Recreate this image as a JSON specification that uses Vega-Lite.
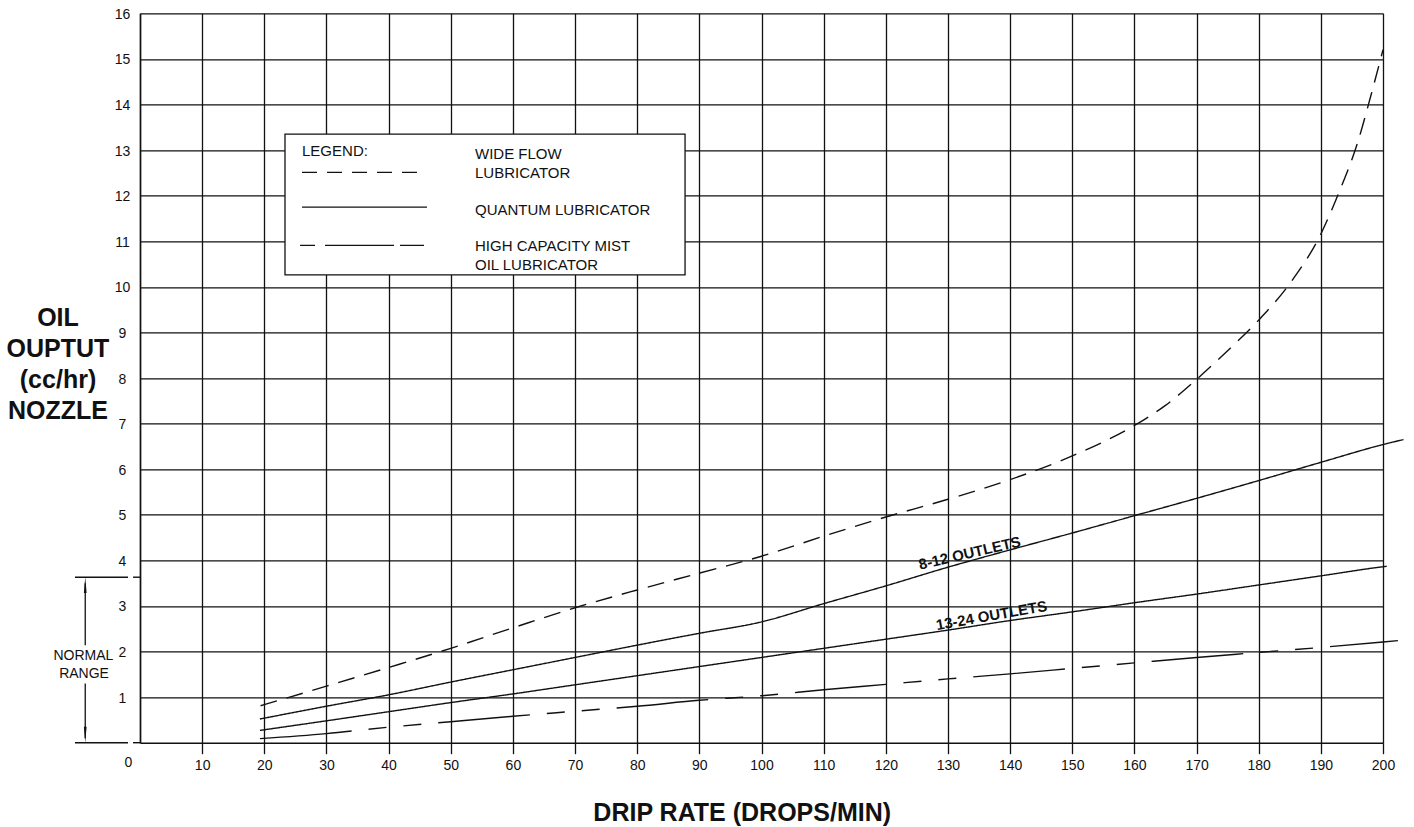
{
  "$schema": "https://vega.github.io/schema/vega-lite/v6.json",
  "width": 1243,
  "height": 729.4,
  "autosize": {"type": "none"},
  "padding": {"left": 140, "top": 13.3, "right": 31, "bottom": 84.3},
  "config": {"view": {"stroke": null}, "font": "Liberation Sans"},
  "datasets": {
    "curves": [
      {"kind": "wide", "curve": "wide", "x": 19.4, "y": 0.81},
      {"kind": "wide", "curve": "wide", "x": 30, "y": 1.24},
      {"kind": "wide", "curve": "wide", "x": 40, "y": 1.65},
      {"kind": "wide", "curve": "wide", "x": 50, "y": 2.07},
      {"kind": "wide", "curve": "wide", "x": 60, "y": 2.52},
      {"kind": "wide", "curve": "wide", "x": 70, "y": 2.96},
      {"kind": "wide", "curve": "wide", "x": 80, "y": 3.35},
      {"kind": "wide", "curve": "wide", "x": 90, "y": 3.72},
      {"kind": "wide", "curve": "wide", "x": 100, "y": 4.09},
      {"kind": "wide", "curve": "wide", "x": 110, "y": 4.53},
      {"kind": "wide", "curve": "wide", "x": 120, "y": 4.95},
      {"kind": "wide", "curve": "wide", "x": 130, "y": 5.34},
      {"kind": "wide", "curve": "wide", "x": 140, "y": 5.77},
      {"kind": "wide", "curve": "wide", "x": 150, "y": 6.29},
      {"kind": "wide", "curve": "wide", "x": 160, "y": 6.96},
      {"kind": "wide", "curve": "wide", "x": 165, "y": 7.4},
      {"kind": "wide", "curve": "wide", "x": 170, "y": 7.97},
      {"kind": "wide", "curve": "wide", "x": 175, "y": 8.6},
      {"kind": "wide", "curve": "wide", "x": 180, "y": 9.27},
      {"kind": "wide", "curve": "wide", "x": 185, "y": 10.07},
      {"kind": "wide", "curve": "wide", "x": 190, "y": 11.16},
      {"kind": "wide", "curve": "wide", "x": 193, "y": 12.1},
      {"kind": "wide", "curve": "wide", "x": 196, "y": 13.2},
      {"kind": "wide", "curve": "wide", "x": 198, "y": 14.17},
      {"kind": "wide", "curve": "wide", "x": 200, "y": 15.2},
      {"kind": "quantum", "curve": "q812", "x": 19.3, "y": 0.52},
      {"kind": "quantum", "curve": "q812", "x": 30, "y": 0.8},
      {"kind": "quantum", "curve": "q812", "x": 40, "y": 1.05},
      {"kind": "quantum", "curve": "q812", "x": 50, "y": 1.33},
      {"kind": "quantum", "curve": "q812", "x": 60, "y": 1.6},
      {"kind": "quantum", "curve": "q812", "x": 70, "y": 1.87},
      {"kind": "quantum", "curve": "q812", "x": 80, "y": 2.14},
      {"kind": "quantum", "curve": "q812", "x": 90, "y": 2.4},
      {"kind": "quantum", "curve": "q812", "x": 100, "y": 2.65},
      {"kind": "quantum", "curve": "q812", "x": 110, "y": 3.05},
      {"kind": "quantum", "curve": "q812", "x": 120, "y": 3.44},
      {"kind": "quantum", "curve": "q812", "x": 130, "y": 3.85},
      {"kind": "quantum", "curve": "q812", "x": 140, "y": 4.23},
      {"kind": "quantum", "curve": "q812", "x": 150, "y": 4.6},
      {"kind": "quantum", "curve": "q812", "x": 160, "y": 4.98},
      {"kind": "quantum", "curve": "q812", "x": 170, "y": 5.36},
      {"kind": "quantum", "curve": "q812", "x": 180, "y": 5.75},
      {"kind": "quantum", "curve": "q812", "x": 190, "y": 6.15},
      {"kind": "quantum", "curve": "q812", "x": 200, "y": 6.54},
      {"kind": "quantum", "curve": "q812", "x": 203.3, "y": 6.65},
      {"kind": "quantum", "curve": "q1324", "x": 19.3, "y": 0.27},
      {"kind": "quantum", "curve": "q1324", "x": 30, "y": 0.48},
      {"kind": "quantum", "curve": "q1324", "x": 40, "y": 0.68},
      {"kind": "quantum", "curve": "q1324", "x": 50, "y": 0.88},
      {"kind": "quantum", "curve": "q1324", "x": 60, "y": 1.07},
      {"kind": "quantum", "curve": "q1324", "x": 70, "y": 1.27},
      {"kind": "quantum", "curve": "q1324", "x": 80, "y": 1.47},
      {"kind": "quantum", "curve": "q1324", "x": 90, "y": 1.67},
      {"kind": "quantum", "curve": "q1324", "x": 100, "y": 1.87},
      {"kind": "quantum", "curve": "q1324", "x": 110, "y": 2.07},
      {"kind": "quantum", "curve": "q1324", "x": 120, "y": 2.27},
      {"kind": "quantum", "curve": "q1324", "x": 130, "y": 2.47},
      {"kind": "quantum", "curve": "q1324", "x": 140, "y": 2.68},
      {"kind": "quantum", "curve": "q1324", "x": 150, "y": 2.87},
      {"kind": "quantum", "curve": "q1324", "x": 160, "y": 3.07},
      {"kind": "quantum", "curve": "q1324", "x": 170, "y": 3.26},
      {"kind": "quantum", "curve": "q1324", "x": 180, "y": 3.46},
      {"kind": "quantum", "curve": "q1324", "x": 190, "y": 3.66},
      {"kind": "quantum", "curve": "q1324", "x": 200, "y": 3.86},
      {"kind": "quantum", "curve": "q1324", "x": 200.6, "y": 3.87},
      {"kind": "mist", "curve": "mist", "x": 19.3, "y": 0.09},
      {"kind": "mist", "curve": "mist", "x": 30, "y": 0.2},
      {"kind": "mist", "curve": "mist", "x": 40, "y": 0.34},
      {"kind": "mist", "curve": "mist", "x": 50, "y": 0.46},
      {"kind": "mist", "curve": "mist", "x": 60, "y": 0.58},
      {"kind": "mist", "curve": "mist", "x": 70, "y": 0.69},
      {"kind": "mist", "curve": "mist", "x": 80, "y": 0.8},
      {"kind": "mist", "curve": "mist", "x": 90, "y": 0.93},
      {"kind": "mist", "curve": "mist", "x": 100, "y": 1.03},
      {"kind": "mist", "curve": "mist", "x": 110, "y": 1.16},
      {"kind": "mist", "curve": "mist", "x": 120, "y": 1.28},
      {"kind": "mist", "curve": "mist", "x": 130, "y": 1.4},
      {"kind": "mist", "curve": "mist", "x": 140, "y": 1.51},
      {"kind": "mist", "curve": "mist", "x": 150, "y": 1.63},
      {"kind": "mist", "curve": "mist", "x": 160, "y": 1.75},
      {"kind": "mist", "curve": "mist", "x": 170, "y": 1.87},
      {"kind": "mist", "curve": "mist", "x": 180, "y": 1.98},
      {"kind": "mist", "curve": "mist", "x": 190, "y": 2.09},
      {"kind": "mist", "curve": "mist", "x": 200, "y": 2.21},
      {"kind": "mist", "curve": "mist", "x": 202.4, "y": 2.24}
    ],
    "legendbox": [{"x": 23.33, "x2": 87.7, "y": 13.35, "y2": 10.26}],
    "legendtext": [
      {"label": "LEGEND:", "x": 26.07, "y": 12.87},
      {"label": "WIDE FLOW", "x": 53.9, "y": 12.8},
      {"label": "LUBRICATOR", "x": 53.9, "y": 12.39},
      {"label": "QUANTUM LUBRICATOR", "x": 53.9, "y": 11.57},
      {"label": "HIGH CAPACITY MIST", "x": 53.9, "y": 10.78},
      {"label": "OIL LUBRICATOR", "x": 53.9, "y": 10.38}
    ],
    "samplewide": [{"x": 26.07, "x2": 46.18, "y": 12.51}],
    "samplequantum": [{"x": 26.07, "x2": 46.18, "y": 11.75}],
    "samplemist": [{"x": 25.75, "x2": 45.7, "y": 10.91}],
    "label812": [{"label": "8-12 OUTLETS", "x": 133.5, "y": 4.16}],
    "label1324": [{"label": "13-24 OUTLETS", "x": 137.0, "y": 2.79}],
    "rangelines": [
      {"x": -10.46, "x2": -1.93, "y": 3.63},
      {"x": -1.13, "x2": 0, "y": 3.63},
      {"x": -10.46, "x2": -1.93, "y": 0},
      {"x": -1.13, "x2": 0, "y": 0}
    ],
    "rangeshaft": [
      {"x": -8.81, "y": 3.5, "y2": 2.14},
      {"x": -8.81, "y": 1.3, "y2": 0.1}
    ],
    "arrowup": [{"x": -8.81, "y": 3.46}],
    "arrowdown": [{"x": -8.81, "y": 0.175}],
    "rangetext": [
      {"label": "NORMAL", "x": -9.1, "y": 1.9},
      {"label": "RANGE", "x": -9.0, "y": 1.5}
    ]
  },
  "layer": [
    {
      "data": {"name": "curves"},
      "mark": {"type": "line", "interpolate": "monotone", "strokeWidth": 1.4, "color": "#111"},
      "encoding": {
        "x": {
          "field": "x", "type": "quantitative",
          "scale": {"domain": [0, 200], "nice": false, "zero": false},
          "axis": {
            "values": [0, 10, 20, 30, 40, 50, 60, 70, 80, 90, 100, 110, 120, 130, 140, 150, 160, 170, 180, 190, 200],
            "title": "DRIP RATE (DROPS/MIN)",
            "grid": true, "gridColor": "#111", "gridWidth": 1.3, "gridOpacity": 1,
            "domainColor": "#111", "domainWidth": 1.5,
            "tickColor": "#111", "tickWidth": 1.3, "tickSize": 11,
            "tickOpacity": {"condition": {"test": "datum.value === 0", "value": 0}, "value": 1},
            "labelFont": "Liberation Sans", "labelFontSize": 14, "labelColor": "#111",
            "labelPadding": {"condition": {"test": "datum.value === 0", "value": 2}, "value": 5},
            "labelOffset": {"condition": {"test": "datum.value === 0", "value": -12}, "value": 0},
            "labelFlush": false, "labelOverlap": false,
            "titleFont": "Liberation Sans", "titleFontSize": 25, "titleFontWeight": "bold", "titleColor": "#111",
            "titleX": 601.7, "titleY": 77.3, "titleAlign": "center", "titleBaseline": "alphabetic"
          }
        },
        "y": {
          "field": "y", "type": "quantitative",
          "scale": {"domain": [0, 16], "nice": false},
          "axis": {
            "values": [1, 2, 3, 4, 5, 6, 7, 8, 9, 10, 11, 12, 13, 14, 15, 16],
            "title": ["OIL", "OUPTUT", "(cc/hr)", "NOZZLE"],
            "grid": true, "gridColor": "#111", "gridWidth": 1.3, "gridOpacity": 1,
            "domainColor": "#111", "domainWidth": 1.5,
            "ticks": false, "tickSize": 0,
            "labelFont": "Liberation Sans", "labelFontSize": 14, "labelColor": "#111",
            "labelAlign": "center", "labelBaseline": "middle", "labelPadding": 18, "labelOffset": 1,
            "labelOverlap": false, "labelFlush": false,
            "titleFont": "Liberation Sans", "titleFontSize": 25, "titleFontWeight": "bold", "titleColor": "#111",
            "titleAngle": 0, "titleX": -82.5, "titleY": 311.7, "titleAlign": "center", "titleBaseline": "alphabetic",
            "titleLineHeight": 31
          }
        },
        "detail": {"field": "curve"},
        "strokeDash": {
          "field": "kind", "type": "nominal",
          "scale": {"domain": ["wide", "quantum", "mist"], "range": [[17, 10], [1, 0], [92, 17, 18, 17, 18, 17]]},
          "legend": null
        }
      }
    },
    {
      "data": {"name": "legendbox"},
      "mark": {"type": "rect", "fill": "white", "stroke": "#111", "strokeWidth": 1.3},
      "encoding": {
        "x": {"field": "x", "type": "quantitative"},
        "x2": {"field": "x2"},
        "y": {"field": "y", "type": "quantitative"},
        "y2": {"field": "y2"}
      }
    },
    {
      "data": {"name": "samplewide"},
      "mark": {"type": "rule", "color": "#111", "strokeWidth": 1.3, "strokeDash": [15, 10]},
      "encoding": {
        "x": {"field": "x", "type": "quantitative"},
        "x2": {"field": "x2"},
        "y": {"field": "y", "type": "quantitative"}
      }
    },
    {
      "data": {"name": "samplequantum"},
      "mark": {"type": "rule", "color": "#111", "strokeWidth": 1.3},
      "encoding": {
        "x": {"field": "x", "type": "quantitative"},
        "x2": {"field": "x2"},
        "y": {"field": "y", "type": "quantitative"}
      }
    },
    {
      "data": {"name": "samplemist"},
      "mark": {"type": "rule", "color": "#111", "strokeWidth": 1.3, "strokeDash": [15, 10, 69, 6, 24, 200]},
      "encoding": {
        "x": {"field": "x", "type": "quantitative"},
        "x2": {"field": "x2"},
        "y": {"field": "y", "type": "quantitative"}
      }
    },
    {
      "data": {"name": "legendtext"},
      "mark": {"type": "text", "align": "left", "baseline": "alphabetic", "fontSize": 15, "font": "Liberation Sans", "color": "#111"},
      "encoding": {
        "x": {"field": "x", "type": "quantitative"},
        "y": {"field": "y", "type": "quantitative"},
        "text": {"field": "label"}
      }
    },
    {
      "data": {"name": "label812"},
      "mark": {"type": "text", "align": "center", "baseline": "middle", "fontSize": 15, "fontWeight": "bold", "font": "Liberation Sans", "angle": -13, "color": "#111"},
      "encoding": {
        "x": {"field": "x", "type": "quantitative"},
        "y": {"field": "y", "type": "quantitative"},
        "text": {"field": "label"}
      }
    },
    {
      "data": {"name": "label1324"},
      "mark": {"type": "text", "align": "center", "baseline": "middle", "fontSize": 15, "fontWeight": "bold", "font": "Liberation Sans", "angle": -10, "color": "#111"},
      "encoding": {
        "x": {"field": "x", "type": "quantitative"},
        "y": {"field": "y", "type": "quantitative"},
        "text": {"field": "label"}
      }
    },
    {
      "data": {"name": "rangelines"},
      "mark": {"type": "rule", "color": "#111", "strokeWidth": 1.4},
      "encoding": {
        "x": {"field": "x", "type": "quantitative"},
        "x2": {"field": "x2"},
        "y": {"field": "y", "type": "quantitative"}
      }
    },
    {
      "data": {"name": "rangeshaft"},
      "mark": {"type": "rule", "color": "#111", "strokeWidth": 1.3},
      "encoding": {
        "x": {"field": "x", "type": "quantitative"},
        "y": {"field": "y", "type": "quantitative"},
        "y2": {"field": "y2"}
      }
    },
    {
      "data": {"name": "arrowup"},
      "mark": {"type": "point", "shape": "M0,-1L0.17,1L-0.17,1Z", "size": 256, "filled": true, "color": "#111", "opacity": 1, "strokeWidth": 0},
      "encoding": {
        "x": {"field": "x", "type": "quantitative"},
        "y": {"field": "y", "type": "quantitative"}
      }
    },
    {
      "data": {"name": "arrowdown"},
      "mark": {"type": "point", "shape": "M0,1L0.17,-1L-0.17,-1Z", "size": 256, "filled": true, "color": "#111", "opacity": 1, "strokeWidth": 0},
      "encoding": {
        "x": {"field": "x", "type": "quantitative"},
        "y": {"field": "y", "type": "quantitative"}
      }
    },
    {
      "data": {"name": "rangetext"},
      "mark": {"type": "text", "align": "center", "baseline": "middle", "fontSize": 14, "font": "Liberation Sans", "color": "#111"},
      "encoding": {
        "x": {"field": "x", "type": "quantitative"},
        "y": {"field": "y", "type": "quantitative"},
        "text": {"field": "label"}
      }
    }
  ]
}
